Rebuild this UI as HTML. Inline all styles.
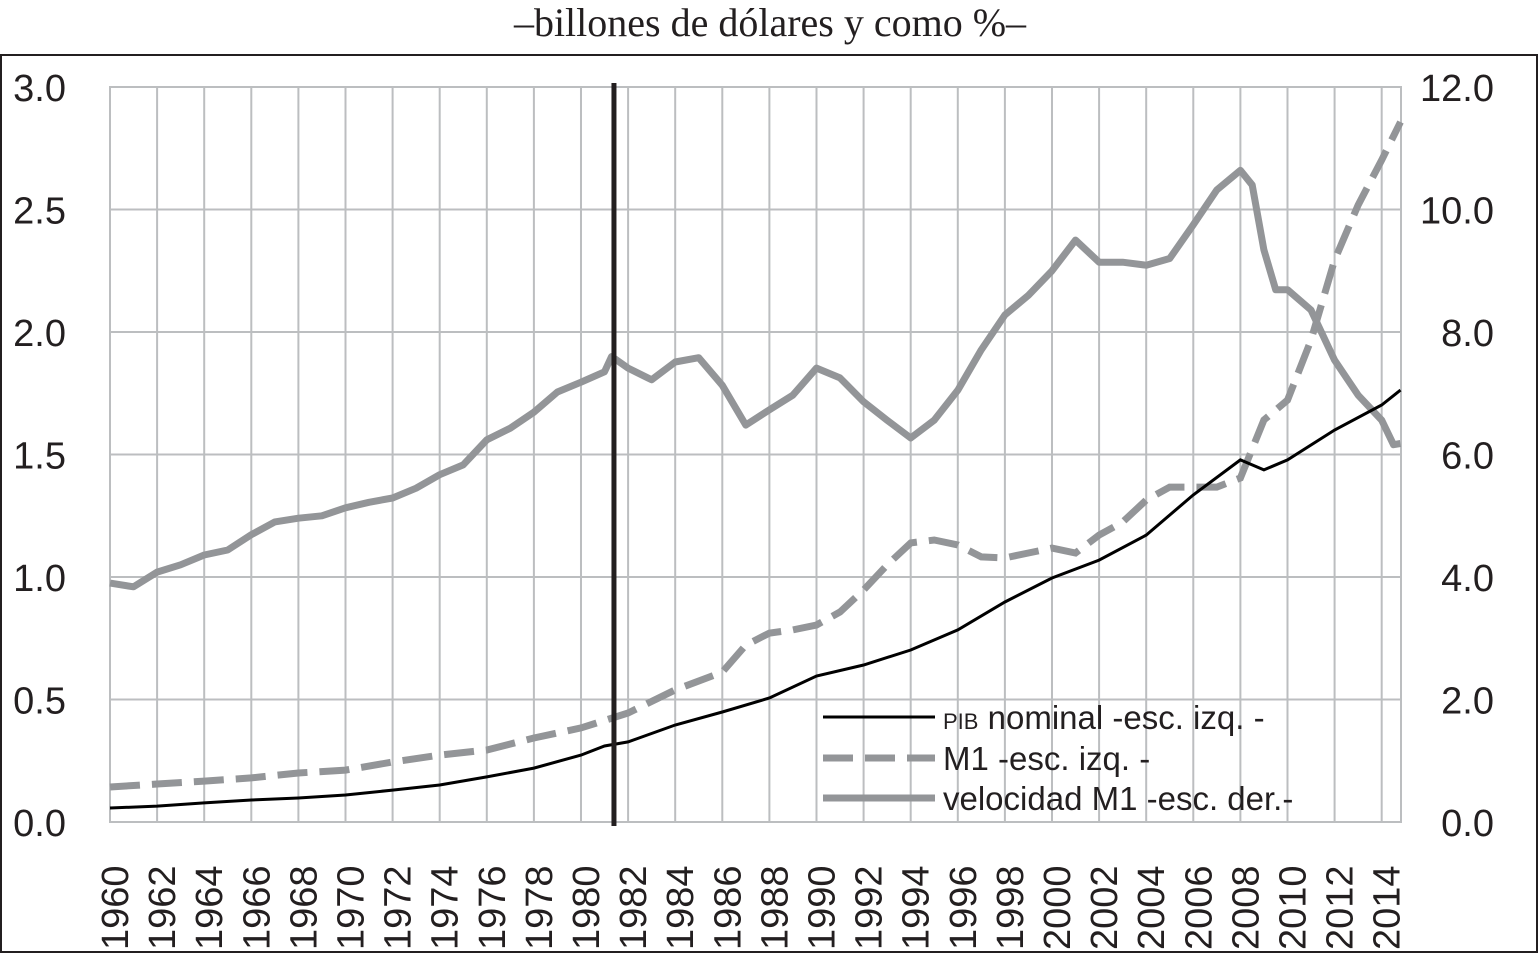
<!DOCTYPE html>
<html><head><meta charset="utf-8"><style>
body{margin:0;background:#fff;width:1540px;height:956px;overflow:hidden}
svg{display:block}
text{font-family:"Liberation Sans",sans-serif;fill:#231f20}
</style></head><body>
<svg width="1540" height="956">
<text x="770" y="36" text-anchor="middle" style="font-family:'Liberation Serif',serif;font-size:40px">–billones de dólares y como %–</text>
<rect x="1" y="55" width="1536" height="897" fill="none" stroke="#231f20" stroke-width="2"/>
<g id="grid"></g><g id="axes"></g><g id="series"></g>
<g>
<line x1="823" y1="717" x2="935" y2="717" stroke="#000" stroke-width="3"/>
<text x="943" y="729" font-size="33"><tspan font-size="22">PIB</tspan> nominal  -esc. izq. -</text>
<line x1="823" y1="758" x2="935" y2="758" stroke="#939598" stroke-width="7" stroke-dasharray="30,12"/>
<text x="943" y="770" font-size="33">M1 -esc. izq. -</text>
<line x1="823" y1="798" x2="935" y2="798" stroke="#939598" stroke-width="7"/>
<text x="943" y="810" font-size="33">velocidad M1 -esc. der.-</text>
</g>
</svg>
<script>
const leftTicks=["0.0","0.5","1.0","1.5","2.0","2.5","3.0"];
const rightTicks=["0.0","2.0","4.0","6.0","8.0","10.0","12.0"];
const yearLabels=[1960,1962,1964,1966,1968,1970,1972,1974,1976,1978,1980,1982,1984,1986,1988,1990,1992,1994,1996,1998,2000,2002,2004,2006,2008,2010,2012,2014];
const velYears=[1960,1961,1962,1963,1964,1965,1966,1967,1968,1969,1970,1971,1972,1973,1974,1975,1976,1977,1978,1979,1980,1981,1981.3,1982,1983,1984,1985,1986,1987,1988,1989,1990,1991,1992,1993,1994,1995,1996,1997,1998,1999,2000,2001,2002,2003,2004,2005,2006,2007,2008,2008.5,2009,2009.5,2010,2011,2012,2013,2014,2014.5,2014.8];
const velValues=[3.9,3.84,4.08,4.2,4.36,4.44,4.69,4.9,4.96,5.0,5.13,5.22,5.29,5.45,5.67,5.83,6.24,6.43,6.69,7.02,7.18,7.35,7.6,7.41,7.22,7.51,7.58,7.13,6.48,6.73,6.97,7.41,7.25,6.86,6.56,6.27,6.56,7.05,7.71,8.28,8.6,9.0,9.5,9.14,9.14,9.09,9.2,9.75,10.32,10.64,10.4,9.34,8.69,8.69,8.36,7.54,6.97,6.56,6.16,6.18];
const m1Years=[1960,1962,1964,1966,1968,1970,1972,1974,1976,1978,1980,1982,1984,1986,1987,1988,1989,1990,1991,1992,1993,1994,1995,1996,1997,1998,1999,2000,2001,2002,2003,2004,2005,2006,2007,2008,2009,2010,2011,2012,2013,2014,2014.8];
const m1Values=[0.143,0.155,0.167,0.18,0.2,0.212,0.245,0.273,0.294,0.343,0.384,0.445,0.539,0.612,0.722,0.771,0.784,0.804,0.857,0.947,1.049,1.139,1.151,1.131,1.082,1.078,1.098,1.118,1.098,1.171,1.224,1.314,1.367,1.367,1.367,1.404,1.641,1.722,1.967,2.294,2.518,2.702,2.857];
const pibYears=[1960,1962,1964,1966,1968,1970,1972,1974,1976,1978,1980,1981,1982,1984,1986,1988,1990,1992,1994,1996,1998,2000,2002,2004,2006,2008,2009,2010,2012,2014,2014.8];
const pibValues=[0.057,0.065,0.078,0.09,0.098,0.11,0.13,0.151,0.184,0.22,0.273,0.31,0.327,0.396,0.449,0.506,0.596,0.641,0.702,0.784,0.898,0.996,1.069,1.171,1.335,1.478,1.437,1.478,1.6,1.702,1.763];
const markerYear=1981.4;
const NS="http://www.w3.org/2000/svg";
const X0=110,X1=1401,Y0=822,Y1=87;
const xs=y=>X0+(y-1960)*(X1-X0)/54.82;
const yl=v=>Y0-v*(Y0-Y1)/3;
const yr=v=>Y0-v*(Y0-Y1)/12;
function mk(tag,attrs,parent){const e=document.createElementNS(NS,tag);for(const k in attrs)e.setAttribute(k,attrs[k]);document.getElementById(parent).appendChild(e);return e;}
leftTicks.forEach((t,i)=>{const y=yl(i*0.5);
 const g=mk('line',{x1:X0,x2:X1,y1:y,y2:y,stroke:'#bcbec0','stroke-width':2},'grid');
 
 
 const a=mk('text',{x:66,y:y+14,'text-anchor':'end','font-size':38},'axes');a.textContent=t;
 
 
 const b=mk('text',{x:1494,y:y+14,'text-anchor':'end','font-size':38},'axes');b.textContent=rightTicks[i];
 
 
});
yearLabels.forEach(yv=>{const x=xs(yv);
 const g=mk('line',{x1:x,x2:x,y1:Y1,y2:Y0,stroke:'#bcbec0','stroke-width':2},'grid');
 
 
 const t=mk('text',{x:0,y:0,'font-size':38,transform:`translate(${x+18},950) rotate(-90)`},'axes');t.textContent=yv;
 
 
});
const fr=mk('rect',{x:X0,y:Y1,width:X1-X0,height:Y0-Y1,fill:'none',stroke:'#bcbec0','stroke-width':2},'grid');


function path(ys,vs,f){return ys.map((y,i)=>(i?'L':'M')+xs(y).toFixed(1)+','+f(vs[i]).toFixed(1)).join('');}
const v=mk('path',{d:path(velYears,velValues,yr),fill:'none',stroke:'#939598','stroke-width':7,'stroke-linejoin':'round'},'series');


const m=mk('path',{d:path(m1Years,m1Values,yl),fill:'none',stroke:'#939598','stroke-width':7,'stroke-dasharray':'30,12'},'series');


const p=mk('path',{d:path(pibYears,pibValues,yl),fill:'none',stroke:'#000','stroke-width':3},'series');


const vl=mk('line',{x1:xs(markerYear),x2:xs(markerYear),y1:83,y2:826,stroke:'#231f20','stroke-width':5},'series');


</script>
</body></html>
